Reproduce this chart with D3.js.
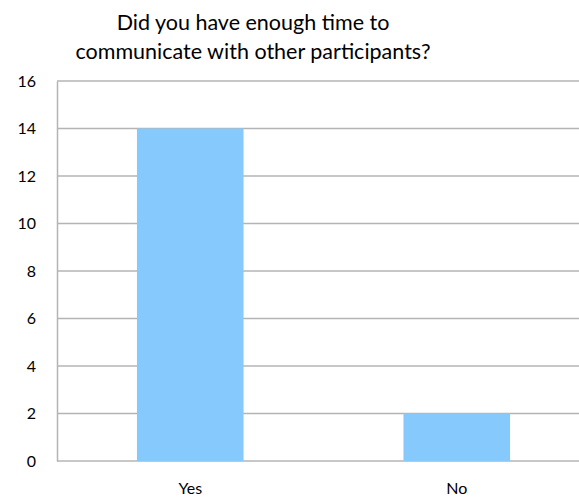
<!DOCTYPE html>
<html>
<head>
<meta charset="utf-8">
<script src="https://cdn.jsdelivr.net/npm/d3@7"></script>
<style>
  html, body { margin: 0; padding: 0; background: #fff; }
  svg { display: block; }
  text { font-family: Lato, "Open Sans", sans-serif; fill: #000; }
</style>
</head>
<body>
<svg id="chart" width="579" height="499"></svg>
<script>
// Survey answers
const categories = ["Yes", "No"];
const counts = [14, 2];
const yTicks = [0, 2, 4, 6, 8, 10, 12, 14, 16];
const titleLines = ["Did you have enough time to", "communicate with other participants?"];

const svg = d3.select("#chart");
const plot = { left: 57, right: 590, top: 81, bottom: 461 };

const x = d3.scaleBand()
  .domain(categories)
  .range([plot.left, plot.right])
  .paddingInner(0.6)
  .paddingOuter(0.3);

const y = d3.scaleLinear()
  .domain([0, 16])
  .range([plot.bottom, plot.top]);

const gridColor = "#b4b4b4";

// Horizontal gridlines
svg.append("g")
  .selectAll("line")
  .data(yTicks)
  .join("line")
  .attr("x1", plot.left)
  .attr("x2", plot.right)
  .attr("y1", d => y(d))
  .attr("y2", d => y(d))
  .attr("stroke", gridColor)
  .attr("stroke-width", 1.5);

// Bars
svg.append("g")
  .selectAll("rect")
  .data(categories)
  .join("rect")
  .attr("x", d => x(d))
  .attr("width", x.bandwidth())
  .attr("y", (d, i) => y(counts[i]))
  .attr("height", (d, i) => y(0) - y(counts[i]))
  .attr("fill", "#86CAFD");

// Y axis
const yAxis = svg.append("g")
  .attr("transform", `translate(${plot.left},0)`)
  .call(d3.axisLeft(y).tickValues(yTicks).tickSize(0).tickPadding(21));
yAxis.select(".domain").attr("stroke", gridColor).attr("stroke-width", 1.5);
yAxis.selectAll("text").style("font-size", "16px").attr("font-family", null);

// X axis
const xAxis = svg.append("g")
  .attr("transform", `translate(0,${plot.bottom})`)
  .call(d3.axisBottom(x).tickSize(0).tickPadding(22));
xAxis.select(".domain").remove();
xAxis.selectAll("text").style("font-size", "16px").attr("font-family", null);

// Title
svg.append("g")
  .selectAll("text")
  .data(titleLines)
  .join("text")
  .attr("x", 253)
  .attr("y", (d, i) => 30 + i * 29)
  .attr("text-anchor", "middle")
  .style("font-size", "21.5px")
  .text(d => d);
</script>
</body>
</html>
